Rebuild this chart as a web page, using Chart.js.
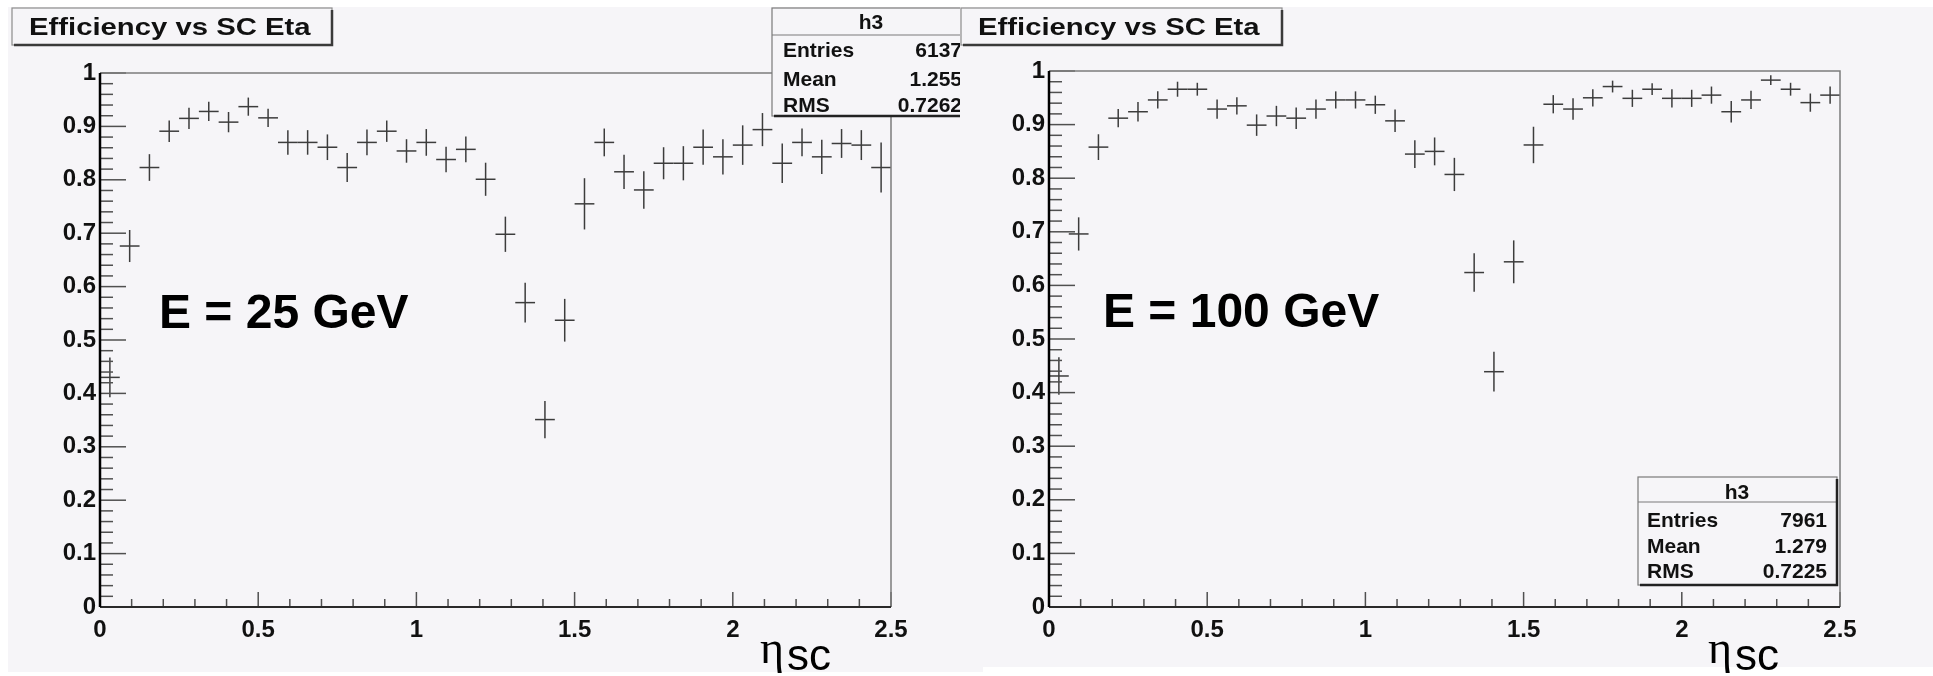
<!DOCTYPE html>
<html>
<head>
<meta charset="utf-8">
<title>Efficiency vs SC Eta</title>
<script src="https://cdn.jsdelivr.net/npm/chart.js@4.4.1/dist/chart.umd.min.js"></script>
<style>
  html, body { margin: 0; padding: 0; background: #fff; }
  body { position: relative; width: 1933px; height: 676px; overflow: hidden; }
  canvas { position: absolute; }
</style>
</head>
<body>
<canvas id="canvas25" width="975" height="669" style="left:8px;top:7px"></canvas>
<canvas id="canvas100" width="973" height="669" style="left:960px;top:7px"></canvas>
<script>
// eta bin centres (40 bins of 0.0625 between 0 and 2.5)
const etaBins = [
  0.03125, 0.09375, 0.15625, 0.21875, 0.28125, 0.34375, 0.40625, 0.46875,
  0.53125, 0.59375, 0.65625, 0.71875, 0.78125, 0.84375, 0.90625, 0.96875,
  1.03125, 1.09375, 1.15625, 1.21875, 1.28125, 1.34375, 1.40625, 1.46875,
  1.53125, 1.59375, 1.65625, 1.71875, 1.78125, 1.84375, 1.90625, 1.96875,
  2.03125, 2.09375, 2.15625, 2.21875, 2.28125, 2.34375, 2.40625, 2.46875,
];
const binHalfWidth = 0.03125;

// E = 25 GeV
const eff25 = [
  0.430, 0.676, 0.823, 0.891, 0.915, 0.928, 0.908, 0.937, 0.916, 0.870,
  0.870, 0.861, 0.823, 0.870, 0.891, 0.854, 0.870, 0.838, 0.857, 0.801,
  0.698, 0.570, 0.351, 0.537, 0.755, 0.870, 0.815, 0.781, 0.831, 0.831,
  0.861, 0.843, 0.865, 0.894, 0.831, 0.870, 0.843, 0.868, 0.865, 0.823,
];
const err25 = [
  0.037, 0.030, 0.025, 0.020, 0.020, 0.018, 0.019, 0.017, 0.017, 0.023,
  0.023, 0.024, 0.027, 0.024, 0.020, 0.022, 0.025, 0.024, 0.024, 0.031,
  0.033, 0.037, 0.035, 0.040, 0.048, 0.026, 0.032, 0.035, 0.030, 0.032,
  0.033, 0.033, 0.037, 0.031, 0.037, 0.026, 0.032, 0.027, 0.028, 0.047,
];

// E = 100 GeV
const eff100 = [
  0.431, 0.696, 0.858, 0.912, 0.924, 0.946, 0.966, 0.966, 0.929, 0.935,
  0.899, 0.916, 0.912, 0.929, 0.946, 0.946, 0.937, 0.907, 0.845, 0.850,
  0.807, 0.624, 0.439, 0.644, 0.862, 0.938, 0.929, 0.950, 0.971, 0.949,
  0.966, 0.949, 0.949, 0.955, 0.924, 0.946, 0.983, 0.966, 0.941, 0.955,
];
const err100 = [
  0.035, 0.031, 0.024, 0.017, 0.018, 0.016, 0.014, 0.012, 0.018, 0.016,
  0.020, 0.019, 0.020, 0.018, 0.016, 0.016, 0.017, 0.021, 0.026, 0.026,
  0.031, 0.036, 0.037, 0.040, 0.034, 0.017, 0.020, 0.016, 0.011, 0.016,
  0.011, 0.017, 0.016, 0.016, 0.020, 0.017, 0.009, 0.012, 0.017, 0.016,
];

const xTickValues = [0, 0.5, 1, 1.5, 2, 2.5];
const xTickLabels = ["0", "0.5", "1", "1.5", "2", "2.5"];
const yTickValues = [0, 0.1, 0.2, 0.3, 0.4, 0.5, 0.6, 0.7, 0.8, 0.9, 1];
const yTickLabels = ["0", "0.1", "0.2", "0.3", "0.4", "0.5", "0.6", "0.7", "0.8", "0.9", "1"];

const statNames = ["Entries", "Mean", "RMS"];
const stats25 = ["6137", "1.255", "0.7262"];
const stats100 = ["7961", "1.279", "0.7225"];

const SANS = "'Liberation Sans', Arial, Helvetica, sans-serif";
const SERIF = "'Liberation Serif', 'DejaVu Serif', serif";
const PANEL = "#f6f5f8";

function line(ctx, x1, y1, x2, y2) {
  ctx.beginPath();
  ctx.moveTo(x1, y1);
  ctx.lineTo(x2, y2);
  ctx.stroke();
}

// ROOT-like look: pad background, error crosses, inner ticks, frame, boxes
const rootStylePlugin = {
  id: "root_style",
  beforeDraw: (chart, args, o) => {
    const { ctx } = chart;
    ctx.save();
    ctx.fillStyle = PANEL;
    ctx.fillRect(0, 0, chart.width, o.panelHeight);
    ctx.restore();
  },
  afterDatasetsDraw: (chart) => {
    const {
      ctx,
      scales: { x, y },
    } = chart;
    ctx.save();
    ctx.strokeStyle = "#3c3c3c";
    ctx.lineWidth = 1.5;
    chart.data.datasets[0].data.forEach((p) => {
      const px = x.getPixelForValue(p.x);
      const py = y.getPixelForValue(p.y);
      line(ctx, x.getPixelForValue(p.x - binHalfWidth), py, x.getPixelForValue(p.x + binHalfWidth), py);
      line(ctx, px, y.getPixelForValue(p.y - p.err), px, y.getPixelForValue(p.y + p.err));
    });
    ctx.restore();
  },
  afterDraw: (chart, args, o) => {
    const {
      ctx,
      chartArea: { left, top, right, bottom },
      scales: { x, y },
    } = chart;
    ctx.save();

    // ticks drawn inside the frame
    ctx.strokeStyle = "#505050";
    ctx.lineWidth = 1.5;
    for (let i = 0; i <= 50; i++) {
      const py = y.getPixelForValue(i / 50);
      line(ctx, left, py, left + (i % 5 === 0 ? 26 : 13), py);
    }
    for (let i = 0; i <= 25; i++) {
      const px = x.getPixelForValue(i / 10);
      line(ctx, px, bottom, px, bottom - (i % 5 === 0 ? 15 : 8));
    }

    // frame
    ctx.strokeStyle = "#7c7c7c";
    ctx.lineWidth = 1.5;
    ctx.beginPath();
    ctx.moveTo(left, top);
    ctx.lineTo(right, top);
    ctx.lineTo(right, bottom);
    ctx.stroke();
    ctx.strokeStyle = "#2a2a2a";
    ctx.lineWidth = 2;
    line(ctx, left, bottom, right, bottom);
    ctx.strokeStyle = "#000";
    ctx.lineWidth = 2.5;
    line(ctx, left, top, left, bottom);

    // title box
    const tb = o.titleBox;
    ctx.fillStyle = PANEL;
    ctx.fillRect(tb.x, tb.y, tb.w, tb.h);
    ctx.strokeStyle = "#8c8c8c";
    ctx.lineWidth = 1.2;
    ctx.strokeRect(tb.x, tb.y, tb.w, tb.h);
    ctx.strokeStyle = "#3a3a3a";
    ctx.lineWidth = 2.5;
    ctx.beginPath();
    ctx.moveTo(tb.x + tb.w, tb.y + 2);
    ctx.lineTo(tb.x + tb.w, tb.y + tb.h);
    ctx.lineTo(tb.x + 2, tb.y + tb.h);
    ctx.stroke();
    ctx.fillStyle = "#111";
    ctx.font = "bold 24px " + SANS;
    ctx.textAlign = "left";
    ctx.textBaseline = "alphabetic";
    ctx.save();
    ctx.translate(tb.textX, tb.textY);
    ctx.scale(1.22, 1);
    ctx.fillText(o.title, 0, 0);
    ctx.restore();

    // statistics box
    const sb = o.statBox;
    ctx.fillStyle = PANEL;
    ctx.fillRect(sb.x, sb.y, sb.w, sb.h);
    ctx.strokeStyle = "#7a7a7a";
    ctx.lineWidth = 1.2;
    ctx.strokeRect(sb.x, sb.y, sb.w, sb.h);
    line(ctx, sb.x, sb.sep, sb.x + sb.w, sb.sep);
    ctx.strokeStyle = "#222";
    ctx.lineWidth = 2.5;
    ctx.beginPath();
    ctx.moveTo(sb.x + sb.w, sb.y + 2);
    ctx.lineTo(sb.x + sb.w, sb.y + sb.h);
    ctx.lineTo(sb.x + 2, sb.y + sb.h);
    ctx.stroke();
    ctx.fillStyle = "#111";
    ctx.font = "bold 21px " + SANS;
    ctx.textAlign = "center";
    ctx.fillText("h3", sb.headX, sb.headY);
    statNames.forEach((name, i) => {
      ctx.textAlign = "left";
      ctx.fillText(name, sb.textX, sb.rows[i]);
      ctx.textAlign = "right";
      ctx.fillText(o.stats[i], sb.valueX, sb.rows[i]);
    });

    // energy label
    ctx.textAlign = "left";
    ctx.fillStyle = "#000";
    ctx.font = "bold 48px " + SANS;
    ctx.fillText(o.energy.text, o.energy.x, o.energy.y);

    // axis title eta_sc
    ctx.font = "46px " + SERIF;
    ctx.fillText("\u03b7", o.axisTitle.x, o.axisTitle.y);
    const w = ctx.measureText("\u03b7").width;
    ctx.font = "44px " + SANS;
    ctx.fillText("sc", o.axisTitle.x + w + 3, o.axisTitle.y + 7);

    ctx.restore();
  },
};

function makeConfig(values, errors, size, area, extra) {
  const points = etaBins.map((eta, i) => ({ x: eta, y: values[i], err: errors[i] }));
  const tickFont = { family: SANS, size: 24, weight: "bold" };
  return {
    type: "scatter",
    data: {
      datasets: [
        {
          label: "h3",
          data: points,
          pointRadius: 0,
          showLine: false,
        },
      ],
    },
    options: {
      responsive: false,
      animation: false,
      events: [],
      layout: {
        padding: {
          left: 0,
          top: area.top,
          right: size.w - area.right,
          bottom: size.h - area.bottom - 45,
        },
      },
      plugins: {
        legend: { display: false },
        tooltip: { enabled: false },
        root_style: extra,
      },
      scales: {
        x: {
          type: "linear",
          min: 0,
          max: 2.5,
          afterFit: (s) => {
            s.height = 45;
          },
          afterBuildTicks: (s) => {
            s.ticks = xTickValues.map((v) => ({ value: v }));
          },
          grid: { display: false, drawTicks: false },
          border: { display: false },
          ticks: {
            font: tickFont,
            color: "#111",
            padding: 9,
            maxRotation: 0,
            autoSkip: false,
            callback: (v, i) => xTickLabels[i],
          },
        },
        y: {
          type: "linear",
          min: 0,
          max: 1,
          afterFit: (s) => {
            s.width = area.left;
          },
          afterBuildTicks: (s) => {
            s.ticks = yTickValues.map((v) => ({ value: v }));
          },
          grid: { display: false, drawTicks: false },
          border: { display: false },
          ticks: {
            font: tickFont,
            color: "#111",
            padding: 4,
            autoSkip: false,
            callback: (v, i) => yTickLabels[i],
          },
        },
      },
    },
    plugins: [rootStylePlugin],
  };
}

const config25 = makeConfig(
  eff25,
  err25,
  { w: 975, h: 669 },
  { left: 92, right: 883, top: 66, bottom: 600 },
  {
    panelHeight: 665,
    title: "Efficiency vs SC Eta",
    titleBox: { x: 4, y: 1, w: 320, h: 37, textX: 21, textY: 28 },
    statBox: {
      x: 764, y: 1, w: 200, h: 108, sep: 28,
      headX: 863, headY: 22, textX: 775, valueX: 954, rows: [50, 79, 105],
    },
    stats: stats25,
    energy: { text: "E = 25 GeV", x: 151, y: 321 },
    axisTitle: { x: 752, y: 656 },
  }
);

const config100 = makeConfig(
  eff100,
  err100,
  { w: 973, h: 669 },
  { left: 89, right: 880, top: 64, bottom: 600 },
  {
    panelHeight: 660,
    title: "Efficiency vs SC Eta",
    titleBox: { x: 1, y: 1, w: 321, h: 37, textX: 18, textY: 28 },
    statBox: {
      x: 678, y: 470, w: 199, h: 108, sep: 495,
      headX: 777, headY: 492, textX: 687, valueX: 867, rows: [520, 546, 571],
    },
    stats: stats100,
    energy: { text: "E = 100 GeV", x: 143, y: 320 },
    axisTitle: { x: 748, y: 656 },
  }
);

const c25 = document.getElementById("canvas25");
const c100 = document.getElementById("canvas100");
if (c25 && c100) {
  new Chart(c25.getContext("2d"), config25);
  new Chart(c100.getContext("2d"), config100);
} else {
  console.error("canvas not found");
}
</script>
</body>
</html>
